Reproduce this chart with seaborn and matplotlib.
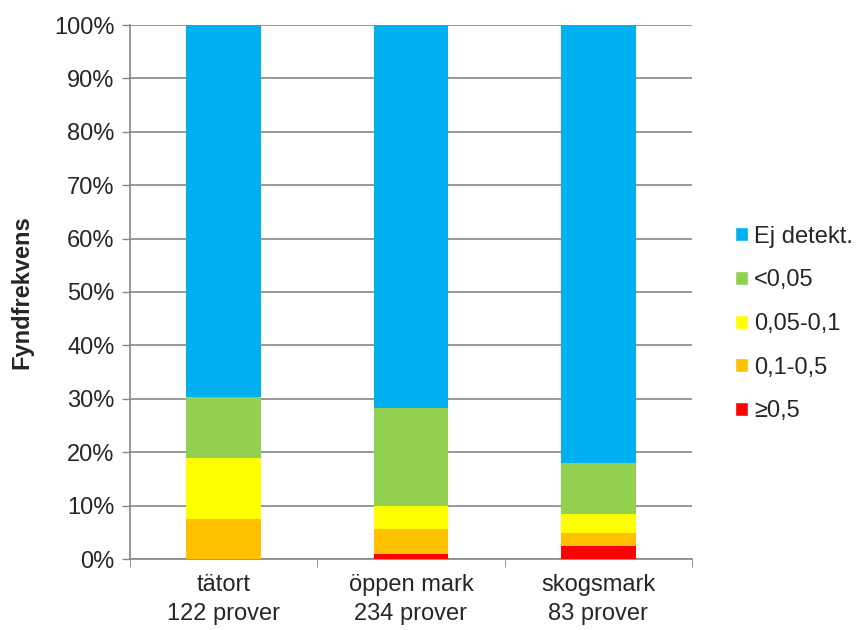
import numpy as np
import pandas as pd
import matplotlib
matplotlib.use("Agg")
import matplotlib.pyplot as plt
from matplotlib.patches import Patch
import seaborn as sns

# data (percent of samples per class)
categories = ["tätort\n122 prover", "öppen mark\n234 prover", "skogsmark\n83 prover"]
classes = ["≥0,5", "0,1-0,5", "0,05-0,1", "<0,05", "Ej detekt."]
red = [0.0, 0.85, 2.4]
orange = [7.4, 4.7, 2.4]
yellow = [11.5, 4.3, 3.6]
green = [11.5, 18.4, 9.6]
blue = [69.6, 71.75, 82.0]
colors = ["#FF0000", "#FFC000", "#FFFF00", "#92D050", "#00B0F0"]

sns.set_style("white")
plt.rcParams["font.family"] = ["Liberation Sans", "DejaVu Sans"]
fs = 17

fig = plt.figure(figsize=(8.58, 6.3), dpi=100)
ax = fig.add_axes([130 / 858, 1 - 559 / 630, 562 / 858, 534 / 630])

# cumulative tops, draw the tallest layer first so lower ones sit on top
layers = np.array([red, orange, yellow, green, blue])
cum = np.cumsum(layers, axis=0)
for i in range(len(classes) - 1, -1, -1):
    df = pd.DataFrame({"cat": categories, "val": cum[i]})
    sns.barplot(data=df, x="cat", y="val", color=colors[i], width=0.4,
                saturation=1, ax=ax, linewidth=0, zorder=3)

ax.set_ylim(0, 100)
ax.set_xlim(-0.5, 2.5)
ax.set_yticks(np.arange(0, 101, 10))
ax.set_yticklabels([f"{v}%" for v in range(0, 101, 10)], fontsize=fs)
ax.set_xticks([0, 1, 2])
ax.set_xticklabels(categories, fontsize=fs, linespacing=1.4)
ax.tick_params(axis="x", length=0, pad=11)
ax.tick_params(axis="y", length=6, direction="out", color="#868686", width=1, left=True, pad=5)
# minor x ticks at category boundaries
ax.set_xticks([-0.5, 0.5, 1.5, 2.5], minor=True)
ax.tick_params(axis="x", which="minor", length=6, direction="out", color="#868686", bottom=True)

ax.yaxis.grid(True, color="#868686", linewidth=1.2, zorder=0)
ax.set_axisbelow(True)
for s in ["top", "right"]:
    ax.spines[s].set_visible(False)
for s in ["left", "bottom"]:
    ax.spines[s].set_color("#868686")
    ax.spines[s].set_linewidth(1.2)

ax.set_xlabel("")
ax.set_ylabel("Fyndfrekvens", fontsize=17, fontweight="bold")
ax.yaxis.set_label_coords(-0.172, 0.5)

handles = [Patch(facecolor=colors[i], label=classes[i]) for i in range(len(classes) - 1, -1, -1)]
fig.legend(handles=handles, loc="center left", bbox_to_anchor=(714 / 858, 1 - 324 / 630),
           frameon=False, fontsize=fs, handlelength=0.55, handleheight=0.55,
           handletextpad=0.25, labelspacing=0.92)

fig.savefig("out.png", dpi=100)
